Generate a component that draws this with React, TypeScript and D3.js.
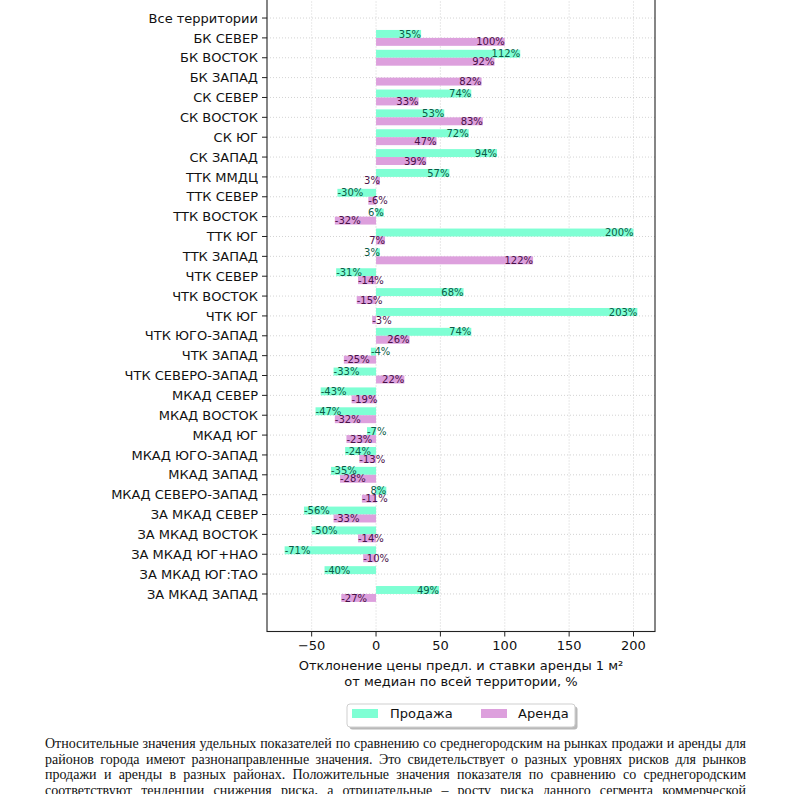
import React, { useEffect } from "react";
import * as d3 from "d3";

const categories = [
  "Все территории", "БК СЕВЕР", "БК ВОСТОК", "БК ЗАПАД", "СК СЕВЕР", "СК ВОСТОК", "СК ЮГ", "СК ЗАПАД",
  "ТТК ММДЦ", "ТТК СЕВЕР", "ТТК ВОСТОК", "ТТК ЮГ", "ТТК ЗАПАД", "ЧТК СЕВЕР", "ЧТК ВОСТОК", "ЧТК ЮГ",
  "ЧТК ЮГО-ЗАПАД", "ЧТК ЗАПАД", "ЧТК СЕВЕРО-ЗАПАД", "МКАД СЕВЕР", "МКАД ВОСТОК", "МКАД ЮГ",
  "МКАД ЮГО-ЗАПАД", "МКАД ЗАПАД", "МКАД СЕВЕРО-ЗАПАД", "ЗА МКАД СЕВЕР", "ЗА МКАД ВОСТОК",
  "ЗА МКАД ЮГ+НАО", "ЗА МКАД ЮГ:ТАО", "ЗА МКАД ЗАПАД",
];

const saleValues: (number | null)[] = [
  null, 35, 112, null, 74, 53, 72, 94, 57, -30, 6, 200, 3, -31, 68, 203, 74, -4, -33, -43, -47, -7, -24,
  -35, 8, -56, -50, -71, -40, 49,
];

const rentValues: (number | null)[] = [
  null, 100, 92, 82, 33, 83, 47, 39, 3, -6, -32, 7, 122, -14, -15, -3, 26, -25, 22, -19, -32, -23, -13,
  -28, -11, -33, -14, -10, null, -27,
];

const xTicks = [-50, 0, 50, 100, 150, 200];

const seriesNames = ["Продажа", "Аренда"];

const axisTitle = ["Отклонение цены предл. и ставки аренды 1 м²", "от медиан по всей территории, %"];

const paragraph = [
  "Относительные значения удельных показателей по сравнению со среднегородским на рынках продажи и аренды для",
  "районов города имеют разнонаправленные значения. Это свидетельствует о разных уровнях рисков для рынков",
  "продажи и аренды в разных районах. Положительные значения показателя по сравнению со среднегородским",
  "соответствуют тенденции снижения риска, а отрицательные – росту риска данного сегмента коммерческой",
];

const SALE_COLOR = "#7fffd4";
const RENT_COLOR = "#dda0dd";
const SALE_TEXT = "#0b5a45";
const RENT_TEXT = "#4a1048";
const FONT = "DejaVu Sans, sans-serif";
const SERIF = "'Liberation Serif', 'Times New Roman', serif";
const P_LEFT = 45;
const P_RIGHT = 746;

let measureCtx: CanvasRenderingContext2D | null = null;
function measure(s: string, size: number): number {
  if (!measureCtx) {
    const c = document.createElement("canvas");
    measureCtx = c.getContext("2d");
  }
  if (!measureCtx) return s.length * size * 0.5;
  measureCtx.font = `${size}px 'Liberation Serif'`;
  return measureCtx.measureText(s).width;
}

function JustifiedLine({ text, x0, x1, y, size }: { text: string; x0: number; x1: number; y: number; size: number }) {
  const words = text.split(" ");
  const widths = words.map((w) => measure(w, size));
  const total = widths.reduce((a, b) => a + b, 0);
  const gap = words.length > 1 ? (x1 - x0 - total) / (words.length - 1) : 0;
  let cx = x0;
  return (
    <g>
      {words.map((w, i) => {
        const px = cx;
        cx += widths[i] + gap;
        return (
          <text key={i} x={px} y={y} fontSize={size} fontFamily={SERIF} fill="#111">
            {w}
          </text>
        );
      })}
    </g>
  );
}

export default function App() {
  useEffect(() => {
    document.body.style.margin = "0";
  }, []);

  const left = 267, right = 655, bottom = 631.5, top = -19.5;
  const x = d3.scaleLinear().domain([-84.7, 216.7]).range([left, right]);
  const y = d3.scaleLinear().domain([-1.89, 30.89]).range([top, bottom]);
  const barH = 0.4;

  // paragraph font size so that the first (tightest) line is close to its natural width
  const baseW = measure(paragraph[0], 12);
  const pSize = Math.min(14.5, Math.max(11, (12 * (P_RIGHT - P_LEFT - 4)) / baseW));

  const bars = (vals: (number | null)[], offset: number, fill: string, txt: string, key: string) =>
    vals.map((v, i) => {
      if (v === null) return null;
      const y0 = y(i + offset);
      const y1 = y(i + offset + barH);
      const x0 = x(Math.min(0, v));
      const x1 = x(Math.max(0, v));
      return (
        <g key={key + i}>
          <rect x={x0} y={y0} width={x1 - x0} height={y1 - y0} fill={fill} />
          <text
            x={x(v)}
            y={(y0 + y1) / 2}
            dy="0.36em"
            textAnchor={v >= 0 ? "end" : "start"}
            fontSize={10}
            fontFamily={FONT}
            fill={txt}
          >
            {`${v}%`}
          </text>
        </g>
      );
    });

  return (
    <svg width={792} height={794} style={{ display: "block", background: "#fff" }}>
      {/* grid */}
      <g stroke="#c8c8c8" strokeWidth={0.8} strokeDasharray="1,2">
        {xTicks.map((t) => (
          <line key={"gx" + t} x1={x(t)} x2={x(t)} y1={top} y2={bottom} />
        ))}
        {categories.map((c, i) => (
          <line key={"gy" + i} x1={left} x2={right} y1={y(i)} y2={y(i)} />
        ))}
      </g>

      {bars(saleValues, -barH, SALE_COLOR, SALE_TEXT, "s")}
      {bars(rentValues, 0, RENT_COLOR, RENT_TEXT, "r")}

      {/* spines */}
      <rect x={left} y={top} width={right - left} height={bottom - top} fill="none" stroke="#222" strokeWidth={1.1} />

      {/* y ticks */}
      {categories.map((c, i) => (
        <g key={"yt" + i}>
          <line x1={left - 5} x2={left} y1={y(i)} y2={y(i)} stroke="#222" strokeWidth={1} />
          <text x={left - 9} y={y(i)} dy="0.36em" textAnchor="end" fontSize={13} fontFamily={FONT} fill="#111">
            {c}
          </text>
        </g>
      ))}

      {/* x ticks */}
      {xTicks.map((t) => (
        <g key={"xt" + t}>
          <line x1={x(t)} x2={x(t)} y1={bottom} y2={bottom + 5} stroke="#222" strokeWidth={1} />
          <text x={x(t)} y={bottom + 18} textAnchor="middle" fontSize={13} fontFamily={FONT} fill="#111">
            {t < 0 ? `\u2212${Math.abs(t)}` : `${t}`}
          </text>
        </g>
      ))}

      {/* axis title */}
      {axisTitle.map((line, i) => (
        <text
          key={"at" + i}
          x={(left + right) / 2}
          y={670 + i * 15.5}
          textAnchor="middle"
          fontSize={13}
          fontFamily={FONT}
          fill="#111"
        >
          {line}
        </text>
      ))}

      {/* legend */}
      <g>
        <rect x={349.5} y={706.5} width={228} height={23} rx={3} fill="#8a8a8a" opacity={0.6} />
        <rect x={347} y={704} width={228} height={23} rx={3} fill="#fff" stroke="#cfcfcf" strokeWidth={1} />
        {seriesNames.map((n, i) => (
          <g key={"lg" + i}>
            <rect x={352 + i * 129} y={709} width={26} height={9} fill={i === 0 ? SALE_COLOR : RENT_COLOR} />
            <text x={390 + i * 128} y={713.5} dy="0.36em" fontSize={13} fontFamily={FONT} fill="#111">
              {n}
            </text>
          </g>
        ))}
      </g>

      {/* paragraph */}
      {paragraph.map((line, i) => (
        <JustifiedLine key={"p" + i} text={line} x0={P_LEFT} x1={P_RIGHT} y={748 + i * 15.6} size={pSize} />
      ))}
    </svg>
  );
}
